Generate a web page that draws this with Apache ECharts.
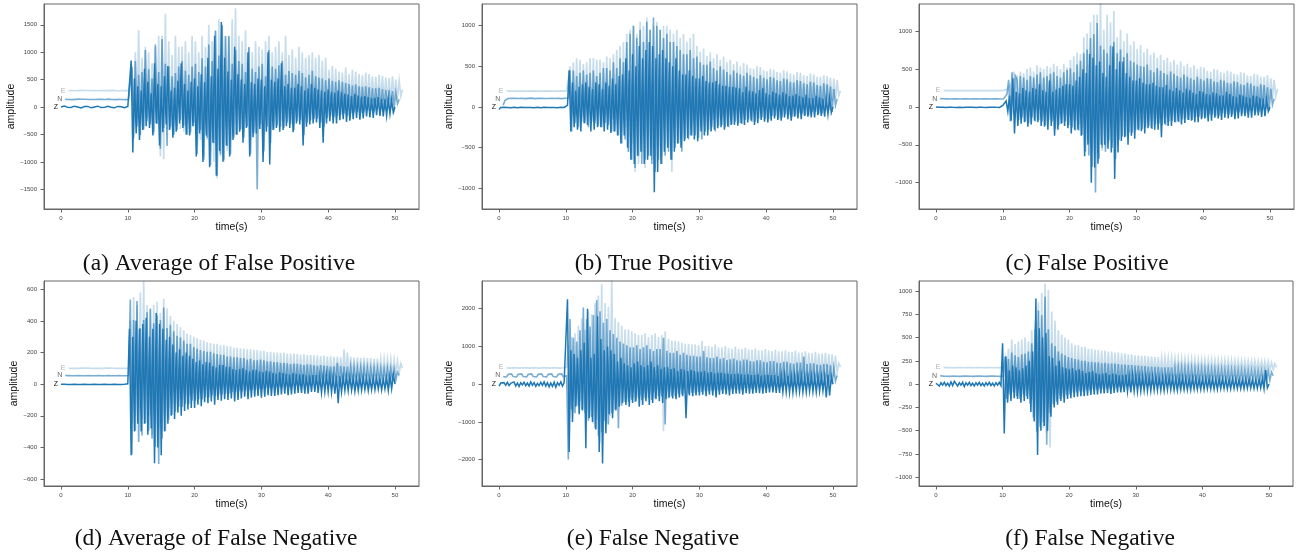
<!DOCTYPE html>
<html><head><meta charset="utf-8">
<script src="https://cdn.jsdelivr.net/npm/echarts@6/dist/echarts.min.js"></script>
<style>html,body{margin:0;padding:0;background:#fff}#c{width:1299px;height:554px}</style>
</head><body><div id="c"></div><script>
// sample step (s) and start time of each component trace [Z, N, E]
const DT = 0.25;
const starts = [0, 0.625, 1.125];
const xTicks = [0, 10, 20, 30, 40, 50];

// ---------- (a) Average of False Positive ----------
const aOff = [0, 140, 300];
const aTicks = [-1500, -1000, -500, 0, 500, 1000, 1500];
const aRange = [-1860, 1880];
const aZ = [0,12,18,8,-6,-14,-8,6,16,14,2,-10,-16,-6,8,18,12,-2,-14,-12,2,14,16,4,-10,-16,-6,8,16,12,-2,-12,-14,0,12,16,6,-8,-14,-4,10,
40,850,-830,
520,-480,380,-600,300,-420,700,-350,460,-380,250,-520,800,-300,420,-700,380,-460,560,-320,
750,-420,300,-560,350,-450,480,-300,800,-380,420,-500,300,-520,460,-350,520,-900,380,-480,
600,-1000,450,-520,900,-1100,560,-650,1300,-1250,700,-800,1550,-1000,900,-700,650,-900,500,-600,
1100,-500,600,-450,500,-650,420,-380,1000,-900,450,-550,420,-480,520,-400,500,-1000,380,-450,
1000,-1050,500,-420,460,-380,520,-450,800,-420,380,-350,420,-380,350,-460,350,-300,420,-320,
380,-700,300,-360,340,-320,420,-300,350,-280,320,-380,300,-650,280,-300,320,-260,280,-300,
260,-300,300,-240,280,-220,240,-270,230,-250,200,-220,240,-200,210,-230,190,-210,200,-170,
180,-190,160,-200,170,-150,180,-160,150,-170,140,-160,140,-130,120,-100,0];
const aN = [0,4,-3,2,-4,3,0,-2,4,-3,2,-4,3,0,-3,4,-2,2,-3,3,0,-4,2,3,-2,-3,4,0,-2,3,-4,2,0,3,-3,2,-4,3,0,
20,600,-700,
700,-500,450,-650,500,-550,900,-400,550,-450,380,-600,1000,-450,500,-900,1100,-520,650,-850,
600,-500,420,-650,480,-560,600,-380,700,-480,520,-650,450,-600,600,-420,650,-1000,500,-560,
750,-1100,600,-700,1000,-1200,700,-800,1250,-1400,800,-1000,1350,-1100,1150,-850,1150,-1000,650,-700,
900,-650,700,-550,650,-700,500,-500,950,-1000,560,-600,500,-1640,600,-450,650,-950,420,-500,
900,-800,600,-550,560,-480,620,-500,700,-520,450,-420,520,-450,480,-560,450,-400,520,-380,
480,-650,400,-420,450,-380,520,-360,420,-350,400,-420,380,-500,350,-340,380,-300,340,-320,
320,-300,350,-280,320,-260,300,-300,280,-260,250,-240,270,-230,240,-250,230,-220,240,-200,
220,-210,200,-220,200,-180,210,-190,190,-200,170,-180,170,-160,150,-150,120,-80,0];
const aE = [0,3,-2,2,-3,2,0,-2,3,-2,2,-3,2,0,-2,3,-2,2,-3,2,0,-3,2,2,-2,-2,3,0,-2,2,-3,2,0,2,-2,2,0,
10,400,-500,
700,-500,1100,-600,600,-650,800,-500,700,-550,500,-800,800,-600,1000,-1200,1000,-1250,1400,-700,
900,-700,650,-800,1000,-650,800,-700,800,-750,900,-600,700,-800,1000,-650,900,-1000,700,-900,
1000,-1200,800,-900,1200,-1100,900,-1300,1100,-1600,1300,-1200,1200,-1300,1000,-1100,1000,-900,1300,-800,
1500,-800,1000,-700,900,-750,1100,-650,800,-900,700,-800,900,-650,800,-700,750,-800,900,-600,
1000,-700,700,-650,800,-600,900,-550,700,-650,1000,-500,650,-550,750,-600,600,-500,800,-450,
700,-550,600,-500,650,-450,700,-500,600,-500,650,-420,550,-450,600,-400,380,-300,450,-280,
400,-320,350,-260,330,-280,420,-250,300,-260,380,-240,350,-230,300,-250,280,-240,330,-200,
300,-200,260,-220,250,-210,290,-190,270,-180,240,-200,230,-190,260,-160,200,-150,180,-100,20];

// ---------- (b) True Positive ----------
const bOff = [0, 100, 200];
const bTicks = [-1000, -500, 0, 500, 1000];
const bRange = [-1255, 1267];
const bZ = [-30,-5,6,-4,8,-6,4,-8,10,-3,6,-9,5,-4,8,-7,3,-6,9,-5,4,-8,7,-3,6,-9,5,-4,8,-6,3,-7,9,-5,6,-8,4,-3,7,-6,5,
20,450,-300,
300,-250,200,-280,250,-300,280,-200,300,-220,250,-300,220,-280,300,-250,280,-250,220,-300,
300,-280,260,-320,350,-300,280,-350,380,-450,400,-350,600,-500,450,-650,650,-700,500,-600,
750,-550,600,-700,700,-650,800,-600,750,-1050,600,-800,650,-700,700,-550,600,-500,550,-650,
500,-550,600,-450,450,-500,400,-420,400,-380,450,-350,380,-400,350,-420,350,-300,380,-350,
320,-350,300,-300,300,-280,320,-260,280,-250,260,-280,260,-240,250,-220,250,-220,240,-230,
230,-200,180,-220,250,-190,200,-170,190,-220,170,-200,210,-160,230,-180,170,-190,150,-170,
190,-140,170,-160,150,-170,180,-130,160,-150,130,-170,140,-120,160,-140,130,-150,120,-110,
150,-120,110,-130,110,-130,140,-100,120,-110,100,-120,100,-90,110,-70,0];
const bN = [-80,-20,0,5,-6,8,-4,6,-8,4,-5,7,-6,3,-8,6,-4,9,-5,3,-7,6,-3,8,-6,4,-9,5,-3,7,-6,4,-8,6,-5,3,-7,8,-4,
10,350,-400,
350,-300,280,-350,320,-280,350,-300,300,-350,320,-280,350,-300,280,-330,320,-350,380,-300,
380,-320,350,-400,450,-400,380,-450,500,-550,450,-500,700,-650,800,-750,900,-850,750,-700,
850,-800,700,-750,950,-700,850,-800,1000,-900,900,-750,850,-800,750,-700,800,-650,700,-750,
700,-600,650,-550,600,-650,550,-500,550,-500,600,-450,500,-450,520,-480,450,-500,420,-400,
420,-380,460,-350,380,-400,350,-330,400,-320,360,-350,330,-350,300,-310,350,-280,320,-300,
300,-310,280,-260,320,-250,290,-280,270,-280,250,-240,290,-230,260,-250,240,-250,270,-210,
260,-210,230,-240,220,-230,250,-190,240,-200,210,-220,200,-210,230,-180,220,-180,190,-200,
180,-200,210,-160,200,-160,170,-180,160,-180,190,-150,180,-140,150,-160,120,-80,0];
const bE = [0,5,-4,6,-5,3,-6,4,-3,6,-5,4,-6,3,-4,5,-3,6,-5,4,-6,3,-4,5,-3,6,-5,4,-6,3,-4,5,-3,6,-5,4,-2,
10,300,-300,
350,-300,400,-280,380,-320,330,-350,350,-300,400,-320,400,-350,380,-300,380,-400,350,-330,
420,-380,400,-350,450,-420,500,-400,550,-500,600,-450,700,-750,750,-650,800,-1000,700,-900,
850,-750,800,-950,900,-800,750,-850,800,-950,850,-700,750,-800,800,-650,800,-700,750,-1000,
700,-650,750,-600,650,-600,700,-550,600,-550,650,-500,700,-500,550,-450,480,-420,520,-400,
430,-380,470,-360,400,-350,450,-330,380,-330,420,-300,350,-300,380,-280,330,-290,360,-260,
300,-270,340,-240,320,-230,280,-250,270,-240,300,-210,290,-200,250,-220,240,-210,270,-180,
260,-180,230,-190,220,-190,250,-160,240,-160,210,-170,200,-170,230,-150,220,-150,190,-160,
180,-160,210,-140,200,-140,170,-150,170,-150,190,-120,180,-120,160,-130,150,-100,130,-60,0];

// ---------- (c) False Positive ----------
const cOff = [0, 110, 220];
const cTicks = [-1000, -500, 0, 500, 1000];
const cRange = [-1348, 1361];
const cZ = [0,6,-4,8,-3,5,-6,4,-2,7,-5,3,-6,8,-4,2,-7,5,-3,6,-4,8,-5,3,-6,4,-2,7,-5,3,-6,5,-4,8,-3,6,-5,4,-6,10,20,
40,80,-60,
150,-180,380,-350,200,-250,180,-220,250,-200,220,-260,200,-230,250,-180,240,-200,300,-250,
220,-260,200,-300,350,-250,200,-380,230,-300,250,-220,280,-250,300,-280,300,-350,280,-300,
350,-300,400,-380,500,-650,450,-500,700,-1000,650,-800,550,-750,600,-500,450,-500,400,-550,
550,-600,800,-950,500,-600,600,-450,600,-400,450,-500,400,-380,350,-420,350,-300,380,-320,
320,-350,300,-280,300,-280,320,-300,280,-300,260,-400,260,-220,290,-250,230,-250,210,-200,
250,-190,220,-230,190,-210,240,-170,220,-180,190,-200,170,-200,210,-160,200,-150,170,-190,
160,-180,190,-140,180,-150,150,-170,150,-140,200,-150,170,-130,140,-160,130,-150,160,-120,
150,-120,130,-140,120,-140,150,-110,140,-110,120,-130,110,-120,100,-60,0];
const cN = [0,3,-2,4,-3,2,-4,3,-2,4,-3,2,-4,3,-2,4,-3,2,-4,3,-2,4,-3,2,-4,3,-2,4,-3,2,-4,3,-2,4,-3,2,-4,3,-2,
10,60,250,
-300,350,-200,300,250,-280,300,-250,280,-300,250,-320,300,-250,280,-300,320,-280,350,-300,
280,-350,300,-280,330,-300,350,-400,300,-350,280,-320,350,-300,380,-350,400,-380,350,-420,
450,-420,500,-480,600,-700,650,-750,800,-900,850,-1240,1000,-800,700,-650,650,-700,600,-550,
700,-650,750,-800,600,-550,650,-500,550,-500,600,-450,500,-450,480,-420,450,-420,430,-400,
420,-380,450,-360,380,-400,350,-340,400,-330,370,-350,340,-350,320,-300,360,-290,330,-310,
300,-310,280,-270,320,-260,290,-280,270,-280,250,-240,290,-240,260,-250,240,-250,270,-210,
260,-210,230,-230,220,-230,250,-190,240,-200,210,-210,200,-210,230,-180,220,-180,190,-200,
180,-190,210,-160,200,-160,170,-180,160,-170,190,-150,180,-140,150,-160,130,-80,0];
const cE = [0,4,-3,2,-4,3,-2,4,-3,2,-4,3,-2,4,-3,2,-4,3,-2,4,-3,2,-4,3,-2,4,-3,2,-4,3,-2,4,-3,2,-4,3,0,
5,10,20,
80,-200,250,-180,200,-220,250,-200,230,-250,280,-200,300,-220,250,-270,330,-250,300,-280,
280,-300,320,-260,300,-280,350,-300,320,-300,280,-320,350,-330,300,-350,400,-380,450,-400,
500,-450,480,-500,700,-650,750,-700,900,-800,1000,-850,1000,-900,1150,-800,800,-750,1000,-700,
900,-700,1050,-750,700,-650,800,-600,650,-600,750,-550,600,-550,650,-500,550,-500,600,-450,
500,-430,550,-400,470,-400,500,-380,430,-380,470,-350,400,-350,430,-320,370,-320,400,-300,
340,-300,380,-270,320,-270,350,-250,300,-250,330,-230,280,-240,310,-220,300,-210,260,-230,
250,-220,280,-190,270,-190,240,-200,230,-200,260,-170,250,-170,220,-190,210,-180,240,-160,
230,-150,200,-170,190,-160,220,-140,210,-140,180,-150,180,-150,200,-120,160,-110,140,-80,20];

// ---------- (d) Average of False Negative ----------
const dOff = [0, 55, 100];
const dTicks = [-600, -400, -200, 0, 200, 400, 600];
const dRange = [-644, 652];
const dZ = [0,2,-1,3,-2,1,-3,2,-1,3,-2,1,-3,2,-1,3,-2,1,-3,2,-1,3,-2,1,-3,2,-1,3,-2,1,-3,2,-1,3,-2,1,-3,2,-1,3,2,
350,-450,300,
-300,400,-250,350,-300,380,-250,420,-320,300,-280,350,-500,450,-400,380,-450,350,-300,280,
-250,300,-200,250,-220,200,-180,220,-200,180,-170,200,-160,180,-150,160,-150,140,-130,150,
-140,125,-115,140,-120,135,-110,115,-130,105,-100,120,-105,120,-95,110,-100,110,-90,95,
-110,90,-100,95,-90,100,-80,90,-95,80,-85,90,-80,90,-75,80,-85,75,-80,85,
-70,80,-75,70,-75,65,-70,75,-65,70,-60,65,-70,60,-65,70,-60,65,-55,60,
-55,62,-60,55,-60,55,-50,58,-50,58,-55,50,-55,50,-48,55,-48,55,-52,45,
-60,55,-120,50,-50,45,-40,48,-42,45,-38,40,-45,38,-40,42,-38,42,-35,38,
-40,35,-36,40,-35,38,-32,36,-36,33,-30,40,-40,50,-30,60,0];
const dN = [0,2,-1,2,-2,1,-2,2,-1,2,-2,1,-2,2,-1,2,-2,1,-2,2,-1,2,-2,1,-2,2,-1,2,-2,1,-2,2,-1,2,-2,1,-2,2,-1,
480,-500,350,
-350,470,-420,300,-380,350,-300,400,-350,420,-400,330,-450,380,-560,350,-400,430,-350,300,
-280,320,-250,280,-230,250,-200,240,-200,220,-180,200,-180,200,-160,180,-160,170,-150,160,
-150,155,-140,150,-140,150,-125,140,-130,135,-120,130,-120,130,-115,120,-115,120,-105,115,
-105,115,-100,110,-100,110,-95,100,-95,105,-90,95,-90,95,-85,100,-85,95,-80,90,
-80,90,-78,85,-78,85,-72,80,-72,80,-70,76,-74,72,-68,75,-66,74,-65,70,
-68,66,-62,70,-62,68,-60,64,-64,60,-58,65,-58,62,-56,60,-60,56,-55,58,
-56,80,-70,60,-55,58,-50,56,-50,55,-48,52,-52,48,-46,50,-46,50,-44,48,
-48,45,-42,46,-44,46,-40,44,-42,42,-40,45,-40,44,-36,40,-30,20,0];
const dE = [0,1,-1,1,-1,1,0,-1,1,-1,1,-1,1,0,-1,1,-1,1,-1,1,0,-1,1,-1,1,-1,1,0,-1,1,-1,1,-1,1,0,-1,0,
300,-350,450,
-300,400,-250,480,-320,550,-350,400,-300,380,-420,400,-350,420,-380,350,-400,440,-300,380,
-250,330,-220,300,-220,280,-200,260,-200,240,-180,220,-180,210,-160,200,-160,190,-150,180,
-150,175,-140,165,-140,160,-135,155,-130,155,-120,145,-125,145,-115,140,-120,140,-110,130,
-115,130,-105,125,-110,125,-100,120,-105,120,-95,115,-100,115,-90,110,-95,110,-88,105,
-90,105,-85,100,-85,100,-80,98,-82,98,-78,92,-80,92,-75,94,-76,90,-72,86,
-74,88,-70,84,-72,84,-68,82,-70,82,-66,78,-68,80,-64,75,-65,76,-62,72,
-62,74,-60,70,-60,120,-55,100,-58,72,-55,68,-56,70,-52,66,-54,66,-50,64,
-52,64,-48,60,-50,62,-46,58,-48,58,-44,56,-46,56,-42,52,-40,45,-30,30,0];

// ---------- (e) False Negative ----------
const eOff = [0, 230, 450];
const eTicks = [-2000, -1000, 0, 1000, 2000];
const eRange = [-2700, 2735];
const eZ = [-50,30,-20,40,-30,50,-40,20,-10,60,-50,30,-60,40,-20,50,-40,30,-50,60,-30,40,-60,20,-40,50,-30,60,-50,40,-70,30,-60,50,-80,40,-30,60,-50,40,30,
2250,-1800,900,
-1000,800,-600,700,-800,900,-700,1100,-1700,2000,-900,700,-1000,800,-1200,1800,-1800,1200,-2100,900,
-1300,1000,-800,900,-900,800,-700,600,-600,700,-500,550,-550,500,-600,450,-500,550,-450,600,
-600,500,-550,450,-450,500,-550,600,-500,450,-400,500,-450,400,-500,450,-400,450,-350,400,
-380,420,-400,350,-350,400,-320,380,-900,350,-300,380,-320,350,-300,330,-300,330,-280,350,
-320,300,-280,320,-300,280,-350,300,-280,300,-260,280,-270,280,-300,260,-260,270,-250,280,
-250,260,-280,250,-240,260,-250,240,-250,240,-230,260,-240,230,-250,240,-230,250,-220,240,
-220,240,-230,220,-230,220,-210,230,-210,230,-220,210,-220,210,-200,220,-200,220,-210,200,
-210,200,-190,210,-200,190,-210,200,-190,200,-180,190,-350,250,-300,200,0];
const eN = [-30,20,-40,30,-20,40,-30,10,-40,30,-20,40,-30,20,-40,30,-10,40,-30,20,-40,30,-20,40,-30,20,-40,30,-20,40,-30,20,-40,30,-20,40,-30,20,-10,
-2230,1500,-900,
1000,-1000,900,-800,1200,-900,1800,-1000,1500,-1200,1300,-1100,1600,-1400,2000,-1600,1700,-1500,1400,-1200,
1500,-1300,1200,-1000,1100,-900,1000,-1400,900,-800,850,-700,800,-700,750,-650,750,-700,800,-600,
700,-650,750,-600,800,-600,700,-650,650,-600,700,-550,700,-550,1000,-1300,650,-600,600,-550,
600,-550,650,-500,550,-500,600,-480,550,-480,520,-460,520,-460,500,-440,500,-440,650,-420,
480,-420,460,-400,460,-400,500,-390,440,-390,460,-370,410,-380,430,-350,450,-360,400,-380,
390,-370,420,-340,420,-340,380,-360,370,-350,400,-320,400,-320,360,-340,350,-330,380,-300,
380,-300,340,-320,330,-310,360,-280,360,-280,320,-300,310,-290,340,-260,340,-260,500,-280,
300,-270,320,-250,320,-240,290,-260,280,-250,300,-230,300,-220,270,-240,200,-150,0];
const eE = [-20,15,-25,20,-15,25,-20,10,-25,20,-15,25,-20,15,-25,20,-10,25,-20,15,-25,20,-15,25,-20,15,-25,20,-15,25,-20,15,-25,20,-15,25,0,
600,-1100,800,
-1200,900,-1000,1100,-900,1300,-1100,1000,-1200,1500,-1300,1400,-1500,1700,-1400,1900,-2000,2200,-1800,1700,
-1500,1600,-1300,2300,-1200,1300,-1100,1200,-1000,1100,-900,1000,-850,1000,-800,950,-800,900,-750,850,
-750,850,-700,900,-700,800,-650,850,-650,900,-600,800,-700,850,-1700,950,-650,750,-600,700,
-600,700,-550,680,-580,650,-520,620,-550,620,-500,600,-520,600,-480,580,-500,700,-460,560,
-480,560,-450,540,-460,600,-430,520,-440,520,-420,560,-430,500,-410,490,-420,540,-400,480,
-410,480,-390,520,-400,470,-380,460,-390,500,-370,450,-380,450,-360,480,-370,440,-350,430,
-360,470,-340,420,-350,420,-330,450,-340,410,-320,400,-330,440,-310,390,-320,390,-300,420,
-310,380,-290,370,-300,410,-280,360,-290,360,-270,380,-280,350,-260,340,-250,300,-150,100,0];

// ---------- (f) False Negative ----------
const fOff = [0, 90, 180];
const fTicks = [-1000, -750, -500, -250, 0, 250, 500, 750, 1000];
const fRange = [-1094, 1108];
const fZ = [10,30,-20,15,-10,20,-15,10,-20,25,-15,30,35,-20,15,-10,20,-25,15,-10,20,-15,10,-20,15,-10,20,-15,10,-20,15,-10,20,-15,10,-20,15,-10,20,-15,440,
-530,300,-200,
150,-180,200,-150,180,-160,150,-200,170,-180,200,-160,250,-300,350,-400,920,-760,600,-500,
500,-450,550,-500,300,-350,280,-250,200,-220,250,-180,180,-200,170,-160,160,-150,170,-140,
150,-135,160,-130,140,-130,120,-125,130,-115,140,-110,120,-110,105,-100,115,-100,120,-95,
100,-105,115,-95,105,-90,95,-90,95,-85,100,-80,85,-90,95,-75,90,-80,85,-75,
80,-70,85,-72,75,-72,80,-65,78,-66,70,-68,70,-68,75,-60,72,-62,66,-64,
65,-64,70,-58,68,-58,62,-60,60,-60,66,-55,64,-55,58,-56,58,-56,62,-50,
60,-52,56,-54,55,-54,60,-48,58,-48,54,-50,52,-50,56,-46,55,-46,50,-48,
50,-48,54,-44,53,-44,48,-46,48,-46,52,-42,60,-50,150,-40,0];
const fN = [0,5,-4,6,-5,3,-6,4,-3,6,-5,4,-6,3,-4,5,-3,6,-5,4,-6,3,-4,5,-3,6,-5,4,-6,3,-4,5,-3,6,-5,4,-6,3,-4,
200,-250,180,
-200,250,-180,220,-220,200,-250,230,-200,240,-220,260,-300,350,-450,500,-600,700,-550,650,
-500,850,-740,500,-400,350,-300,320,-280,260,-250,240,-230,220,-210,200,-200,190,-180,180,
-180,175,-165,160,-170,160,-155,150,-160,150,-145,145,-150,145,-140,135,-140,140,-135,130,
-135,130,-125,130,-130,125,-120,120,-125,120,-115,115,-120,115,-110,110,-115,110,-105,105,
-110,105,-100,100,-105,100,-98,95,-100,95,-92,92,-96,92,-88,90,-92,90,-86,86,
-90,86,-84,84,-86,84,-80,82,-84,80,-78,80,-80,78,-76,76,-78,76,-72,75,
-76,72,-70,72,-72,70,-68,70,-70,68,-66,68,-68,66,-64,65,-66,64,-62,64,
-64,62,-60,62,-62,60,-58,60,-60,58,-56,58,-58,56,-54,56,-50,40,0];
const fE = [0,3,-2,4,-3,2,-4,3,-2,4,-3,2,-4,3,-2,4,-3,2,-4,3,-2,4,-3,2,-4,3,-2,4,-3,2,-4,3,-2,4,-3,2,0,
100,-150,200,
-180,300,-200,250,-220,280,-250,300,-230,320,-260,280,-300,400,-350,500,-550,700,-600,800,
-650,900,-700,830,-860,600,-400,500,-350,400,-300,350,-280,320,-250,300,-200,260,-180,240,
-180,240,-160,220,-160,220,-150,200,-150,200,-140,190,-140,190,-130,180,-130,180,-120,170,
-120,170,-110,160,-110,160,-100,150,-100,150,-95,140,-95,140,-90,130,-90,130,-85,125,
-85,125,-80,120,-80,115,-76,110,-76,110,-72,105,-72,105,-70,100,-70,100,-66,95,
-66,95,-64,92,-64,92,-60,90,-60,88,-58,86,-58,86,-56,84,-56,84,-54,82,
-54,82,-52,80,-52,80,-50,78,-50,78,-48,76,-48,76,-46,74,-46,74,-44,72,
-44,72,-42,70,-42,70,-40,68,-40,68,-38,66,-38,66,-36,64,-30,50,-20,40,0];

const panels = [
  {caption:'(a) Average of False Positive', Z:aZ, N:aN, E:aE, off:aOff, ticks:aTicks, range:aRange},
  {caption:'(b) True Positive', Z:bZ, N:bN, E:bE, off:bOff, ticks:bTicks, range:bRange},
  {caption:'(c) False Positive', Z:cZ, N:cN, E:cE, off:cOff, ticks:cTicks, range:cRange},
  {caption:'(d) Average of False Negative', Z:dZ, N:dN, E:dE, off:dOff, ticks:dTicks, range:dRange},
  {caption:'(e) False Negative', Z:eZ, N:eN, E:eE, off:eOff, ticks:eTicks, range:eRange},
  {caption:'(f) False Negative', Z:fZ, N:fN, E:fE, off:fOff, ticks:fTicks, range:fRange}
];
// layout (pixels)
const layout = [
  {left:44, top:4, w:375, cx:219, cy:264},
  {left:482, top:4, w:375, cx:654, cy:264},
  {left:919, top:4, w:375, cx:1087, cy:264},
  {left:44, top:281, w:375, cx:216, cy:539},
  {left:482, top:281, w:375, cx:653, cy:539},
  {left:919, top:281, w:374, cx:1090, cy:539}
];
const H = 205;
const comps = [
  {name:'E', k:2, color:'rgba(31,119,180,0.25)', lab:'#b0b0b0', w:1.7},
  {name:'N', k:1, color:'rgba(31,119,180,0.6)', lab:'#666666', w:1.6},
  {name:'Z', k:0, color:'#1f77b4', lab:'#111111', w:1.5}
];
const fmt = v => v < 0 ? '\u2212' + Math.abs(v) : String(v);
const grids = [], xAxes = [], yAxes = [], series = [], graphics = [];
panels.forEach((p, i) => {
  const L = layout[i];
  grids.push({left:L.left, top:L.top, width:L.w, height:H, show:true, borderColor:'#666', borderWidth:1, backgroundColor:'rgba(0,0,0,0)'});
  xAxes.push({gridIndex:i, type:'value', min:-2.55, max:53.6,
    name:'time(s)', nameLocation:'middle', nameGap:13,
    nameTextStyle:{fontFamily:'Liberation Sans', fontSize:10.5, color:'#111'},
    axisLine:{show:true, onZero:false, lineStyle:{color:'#666'}},
    axisTick:{show:true, length:3.5, customValues:xTicks, lineStyle:{color:'#666'}},
    axisLabel:{customValues:xTicks, fontFamily:'Liberation Sans', fontSize:6, margin:6, color:'#444', formatter:fmt},
    splitLine:{show:false}});
  yAxes.push({gridIndex:i, type:'value', min:p.range[0], max:p.range[1],
    name:'amplitude', nameLocation:'middle', nameGap:23, nameRotate:90,
    nameTextStyle:{fontFamily:'Liberation Sans', fontSize:10.5, color:'#111'},
    axisLine:{show:true, onZero:false, lineStyle:{color:'#666'}},
    axisTick:{show:true, length:3.5, customValues:p.ticks, lineStyle:{color:'#666'}},
    axisLabel:{customValues:p.ticks, fontFamily:'Liberation Sans', fontSize:6, margin:7, color:'#444', formatter:fmt},
    splitLine:{show:false}});
  comps.forEach(c => {
    const vals = p[c.name], t0 = starts[c.k], off = p.off[c.k];
    series.push({type:'line', xAxisIndex:i, yAxisIndex:i, showSymbol:false, symbol:'none', silent:true,
      data: vals.map((v, j) => [t0 + j * DT, v + off]),
      lineStyle:{width:c.w, color:c.color, join:'miter'}, itemStyle:{color:c.color},
      markPoint:{symbol:'circle', symbolSize:0, silent:true,
        label:{show:true, position:'left', distance:3, formatter:c.name, color:c.lab, fontSize:7, fontFamily:'Liberation Sans'},
        data:[{coord:[t0, off]}]}
    });
  });
  graphics.push({type:'text', x:L.cx, y:L.cy, style:{text:p.caption, font:'23.5px "Liberation Serif"', fill:'#111', align:'center', verticalAlign:'middle'}});
});
const chart = echarts.init(document.getElementById('c'), null, {renderer:'canvas'});
chart.setOption({animation:false, grid:grids, xAxis:xAxes, yAxis:yAxes, series:series, graphic:graphics});
</script></body></html>
